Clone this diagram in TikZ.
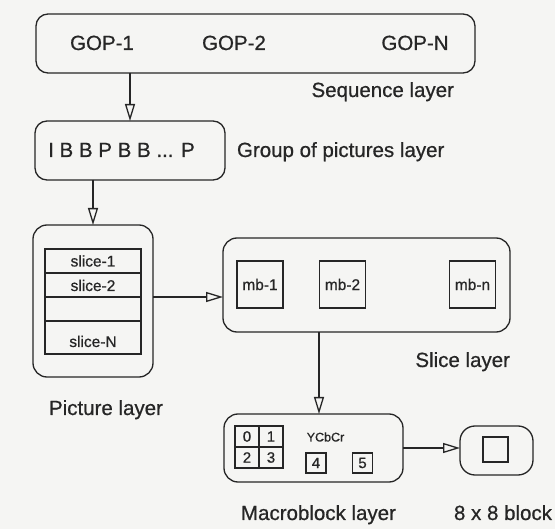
\documentclass[tikz,border=0pt]{standalone}
\usepackage{fontspec}
\setmainfont{Liberation Sans}[FakeBold=0.7]
\usetikzlibrary{arrows.meta}
\definecolor{bg}{RGB}{245,245,243}
\definecolor{ink}{RGB}{38,38,38}
\begin{document}
\begin{tikzpicture}[x=1pt,y=-1pt,
  every node/.style={text=ink, inner sep=0pt, outer sep=0pt},
  layerbox/.style={draw=ink, line width=1.3pt, rounded corners=12pt},
  cellbox/.style={draw=ink, line width=1.2pt},
  bigtext/.style={font=\fontsize{20.5}{24}\selectfont},
  midtext/.style={font=\fontsize{15.5}{18}\selectfont},
  digtext/.style={font=\fontsize{15}{18}\selectfont},
  smalltext/.style={font=\fontsize{12.5}{15}\selectfont},
  arr/.style={draw=ink, line width=1.3pt, -{Triangle[open, length=17pt, width=10pt, fill=bg]}},
]
\fill[bg] (0,0) rectangle (555,529);
\useasboundingbox (0,0) rectangle (555,529);

% Sequence layer
\node[layerbox, minimum width=439pt, minimum height=59pt] (seq) at (255.5,43.5) {};
\node[bigtext, anchor=base] (g1) at (102,50) {GOP-1};
\node[bigtext, anchor=base] (g2) at (234,50) {GOP-2};
\node[bigtext, anchor=base] (gn) at (415,50) {GOP-N};
\node[bigtext, anchor=base east] (seql) at (454,97) {Sequence layer};

% GOP layer
\node[layerbox, minimum width=190pt, minimum height=59pt] (gop) at (130,150.5) {};
\node[bigtext, anchor=base] (gopt) at (121.5,157) {I B B P B B ... P};
\node[bigtext, anchor=base west] (gopl) at (237,157) {Group of pictures layer};

% Picture layer
\node[layerbox, rounded corners=14pt, minimum width=120pt, minimum height=152pt] (pic) at (93,301) {};
\node[cellbox, minimum width=96pt, minimum height=24pt] (s1) at (93,261) {};
\node[cellbox, minimum width=96pt, minimum height=24pt] (s2) at (93,285) {};
\node[cellbox, minimum width=96pt, minimum height=24pt] (s3) at (93,309) {};
\node[cellbox, minimum width=96pt, minimum height=33pt] (s4) at (93,337.5) {};
\node[midtext, anchor=base] (s1t) at (93,266.5) {slice-1};
\node[midtext, anchor=base] (s2t) at (93,291) {slice-2};
\node[midtext, anchor=base] (s4t) at (93,347) {slice-N};
\node[bigtext, anchor=base] (picl) at (106,415) {Picture layer};

% Slice layer
\node[layerbox, rounded corners=14pt, minimum width=287pt, minimum height=94pt] (slicebox) at (366.5,285) {};
\node[cellbox, midtext, minimum width=46pt, minimum height=47pt] (mb1) at (260,284.5) {mb-1};
\node[cellbox, midtext, minimum width=46pt, minimum height=47pt] (mb2) at (342.5,284.5) {mb-2};
\node[cellbox, midtext, minimum width=46pt, minimum height=47pt] (mbn) at (472.5,284.5) {mb-n};
\node[bigtext, anchor=base east] (slicel) at (510,367) {Slice layer};

% Macroblock layer
\node[layerbox, rounded corners=14pt, minimum width=179pt, minimum height=68pt] (mbl) at (313.5,448) {};
\node[cellbox, digtext, minimum width=24pt, minimum height=21pt] (c0) at (247,436.5) {0};
\node[cellbox, digtext, minimum width=24pt, minimum height=21pt] (c1) at (271,436.5) {1};
\node[cellbox, digtext, minimum width=24pt, minimum height=21pt] (c2) at (247,457.5) {2};
\node[cellbox, digtext, minimum width=24pt, minimum height=21pt] (c3) at (271,457.5) {3};
\node[smalltext] (ycc) at (325.5,437) {YCbCr};
\node[cellbox, digtext, minimum width=20pt, minimum height=20pt] (c4) at (316,463) {4};
\node[cellbox, digtext, minimum width=20pt, minimum height=20pt] (c5) at (362.5,463) {5};
\node[bigtext, anchor=base] (mbll) at (318.5,520) {Macroblock layer};

% 8x8 block
\node[layerbox, rounded corners=15pt, minimum width=73pt, minimum height=49pt] (blk) at (496.5,450.5) {};
\node[cellbox, minimum width=25pt, minimum height=25pt] (blkin) at (495.5,449.5) {};
\node[bigtext, anchor=base] (blkl) at (503,520) {8 x 8 block};

% connectors
\coordinate (r1) at (0,297);
\coordinate (c2x) at (319,0);
\draw[arr] (gop.north |- seq.south) -- (gop.north);
\draw[arr] (pic.north |- gop.south) -- (pic.north);
\draw[arr] (pic.east |- r1) -- (slicebox.west |- r1);
\draw[arr] (slicebox.south -| c2x) -- (mbl.north -| c2x);
\draw[arr] (mbl.east) -- (blk.west |- mbl.east);
\end{tikzpicture}
\end{document}
